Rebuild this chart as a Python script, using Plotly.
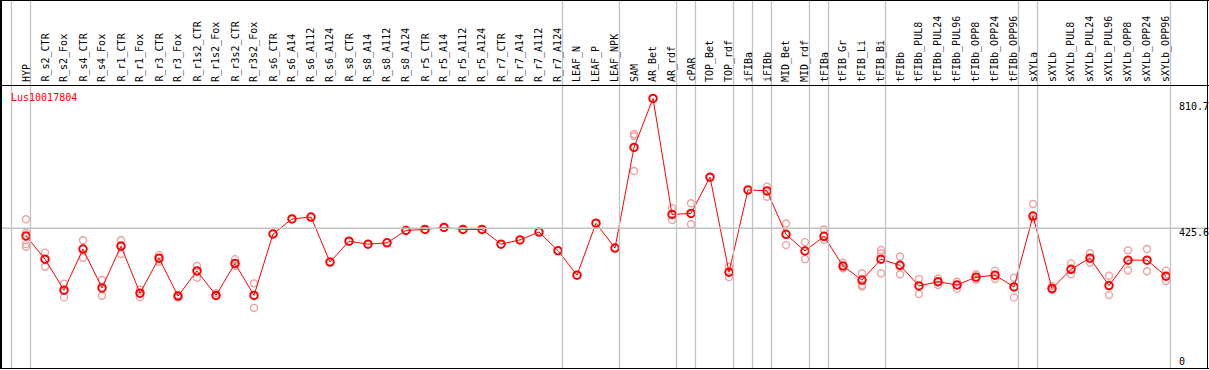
import plotly.graph_objects as go

# ---------------- data ----------------
categories = [
    "HYP", "R_s2_CTR", "R_s2_Fox", "R_s4_CTR", "R_s4_Fox", "R_r1_CTR", "R_r1_Fox",
    "R_r3_CTR", "R_r3_Fox", "R_r1s2_CTR", "R_r1s2_Fox", "R_r3s2_CTR", "R_r3s2_Fox",
    "R_s6_CTR", "R_s6_A14", "R_s6_A112", "R_s6_A124", "R_s8_CTR", "R_s8_A14",
    "R_s8_A112", "R_s8_A124", "R_r5_CTR", "R_r5_A14", "R_r5_A112", "R_r5_A124",
    "R_r7_CTR", "R_r7_A14", "R_r7_A112", "R_r7_A124", "LEAF_N", "LEAF_P", "LEAF_NPK",
    "SAM", "AR_Bet", "AR_rdf", "cPAR", "TOP_Bet", "TOP_rdf", "iFIBa", "iFIBb",
    "MID_Bet", "MID_rdf", "tFIBa", "tFIB_Gr", "tFIB_Li", "tFIB_Bi", "tFIBb",
    "tFIBb_PUL8", "tFIBb_PUL24", "tFIBb_PUL96", "tFIBb_OPP8", "tFIBb_OPP24",
    "tFIBb_OPP96", "sXYLa", "sXYLb", "sXYLb_PUL8", "sXYLb_PUL24", "sXYLb_PUL96",
    "sXYLb_OPP8", "sXYLb_OPP24", "sXYLb_OPP96",
]

mean_values = [
    402, 331, 236, 362, 243, 371, 227, 334, 218, 295, 220, 318, 220,
    408, 454, 460, 322, 386, 377, 381, 419, 422, 428, 422, 422,
    377, 390, 414, 357, 282, 441, 365,
    673, 823, 468, 471, 582, 291, 543, 540, 407, 356,
    401, 310, 267, 331, 312, 249, 262, 252, 276, 282, 246,
    463, 241, 300, 334, 250, 328, 328, 279,
]

replicate_values = [
    [453, 412, 377, 369], [351, 308], [256, 214], [389, 335], [267, 219],
    [389, 347], [238, 214], [344, 323], [221, 214], [310, 274], [227, 218],
    [331, 310], [257, 182],
    [], [], [], [], [], [], [], [], [], [], [], [], [], [], [], [], [], [], [],
    [714, 708, 601], [], [487, 451], [502, 438], [], [308, 276], [], [553, 522],
    [440, 374], [383, 331],
    [422, 390], [320, 303], [288, 252, 247], [359, 349, 288], [339, 285],
    [270, 224], [272, 252], [262, 240], [285, 268], [296, 270], [274, 214],
    [500, 455], [249, 237], [318, 285], [349, 320], [280, 221], [358, 297],
    [362, 294], [296, 264],
]

# first category of the chart, and last category of each group
first_category = "HYP"
group_last = ["HYP", "R_r7_A124", "LEAF_NPK", "AR_rdf", "cPAR", "TOP_rdf", "iFIBa",
              "iFIBb", "MID_rdf", "tFIBa", "tFIB_Bi", "tFIBb_OPP96", "sXYLa",
              "sXYLb_OPP96"]

gene_name = "Lus10017804"
y_tick_values = [810.7, 425.6, 0]
y_tick_labels = ["810.7", "425.6", "0"]

# ---------------- layout geometry ----------------
W, H = 1209, 370
Y_ZERO_PX = 367.3
PX_PER_UNIT = 0.3267
X0_PX, STEP = 26.0, 19.0
FONT = "DejaVu Sans Mono"
RED = "#ff0000"
PINK = "#f0a0a0"
GRAY = "#c2c2c2"


def py(px):
    return 1 - px / H


def px_(x):
    return x / W


y_range = [(Y_ZERO_PX - H) / PX_PER_UNIT, Y_ZERO_PX / PX_PER_UNIT]
x_range = [-X0_PX / STEP, (W - X0_PX) / STEP]

fig = go.Figure()

rep_x, rep_y = [], []
for cat, reps in zip(categories, replicate_values):
    for r in reps:
        rep_x.append(cat)
        rep_y.append(r)

fig.add_trace(go.Scatter(
    x=rep_x, y=rep_y, mode="markers",
    marker=dict(symbol="circle-open", size=7, color=PINK, line=dict(width=1.4, color=PINK)),
    hoverinfo="skip", showlegend=False,
))
fig.add_trace(go.Scatter(
    x=categories, y=mean_values, mode="lines+markers",
    line=dict(color=RED, width=1),
    marker=dict(symbol="circle-open", size=7.5, color=RED, line=dict(width=2, color=RED)),
    showlegend=False,
))

shapes = []
# vertical group separators: one before the first category, one after each group
sep_positions = [categories.index(first_category) - 1] + [categories.index(c) for c in group_last]
for i in sep_positions:
    xpx = round(X0_PX + (i + 0.23) * STEP) + 0.5
    shapes.append(dict(type="line", xref="paper", yref="paper", x0=px_(xpx), x1=px_(xpx),
                       y0=py(368.5), y1=py(0), layer="above",
                       line=dict(color=GRAY, width=1.3)))
# horizontal guide line at middle tick
shapes.append(dict(type="line", xref="paper", yref="y", x0=0, x1=1,
                   y0=y_tick_values[1], y1=y_tick_values[1], line=dict(color=GRAY, width=1.3)))
# black frame
for (x0, y0, x1, y1, w) in [
    (0, 0.5, W, 0.5, 1), (0, 85.5, W, 85.5, 1), (0, 368.5, W, 368.5, 1),
    (1, 0, 1, 368.5, 2), (1207.5, 0, 1207.5, 368.5, 1),
]:
    shapes.append(dict(type="line", xref="paper", yref="paper", x0=px_(x0), x1=px_(x1),
                       y0=py(y0), y1=py(y1), line=dict(color="black", width=w)))

annotations = []
for cat in categories:
    annotations.append(dict(x=cat, xref="x", y=py(84), yref="paper", text=cat,
                            textangle=-90, xanchor="center", yanchor="bottom",
                            showarrow=False, font=dict(family=FONT, size=10, color="black")))
annotations.append(dict(x=px_(9), xref="paper", y=py(97), yref="paper", text=gene_name,
                        xanchor="left", yanchor="middle", showarrow=False,
                        font=dict(family=FONT, size=10, color=RED)))
for v, t in zip(y_tick_values, y_tick_labels):
    shift = -4 if v > 0 else 5.6
    annotations.append(dict(x=px_(1177), xref="paper", y=v, yref="y", text=t,
                            xanchor="left", yanchor="middle", yshift=shift, showarrow=False,
                            font=dict(family=FONT, size=10, color="black")))

fig.update_layout(
    width=W, height=H,
    margin=dict(l=0, r=0, t=0, b=0, pad=0),
    paper_bgcolor="white", plot_bgcolor="white",
    xaxis=dict(type="category", categoryorder="array", categoryarray=categories,
               range=x_range, showgrid=False, zeroline=False, showline=False,
               showticklabels=False, ticks="", domain=[0, 1]),
    yaxis=dict(range=y_range, showgrid=False, zeroline=False, showline=False,
               showticklabels=False, ticks="", domain=[0, 1]),
    shapes=shapes, annotations=annotations,
)

fig.write_html("out.html", config={"displayModeBar": False},
               post_script="document.body.style.margin='0';document.body.style.overflow='hidden';")
